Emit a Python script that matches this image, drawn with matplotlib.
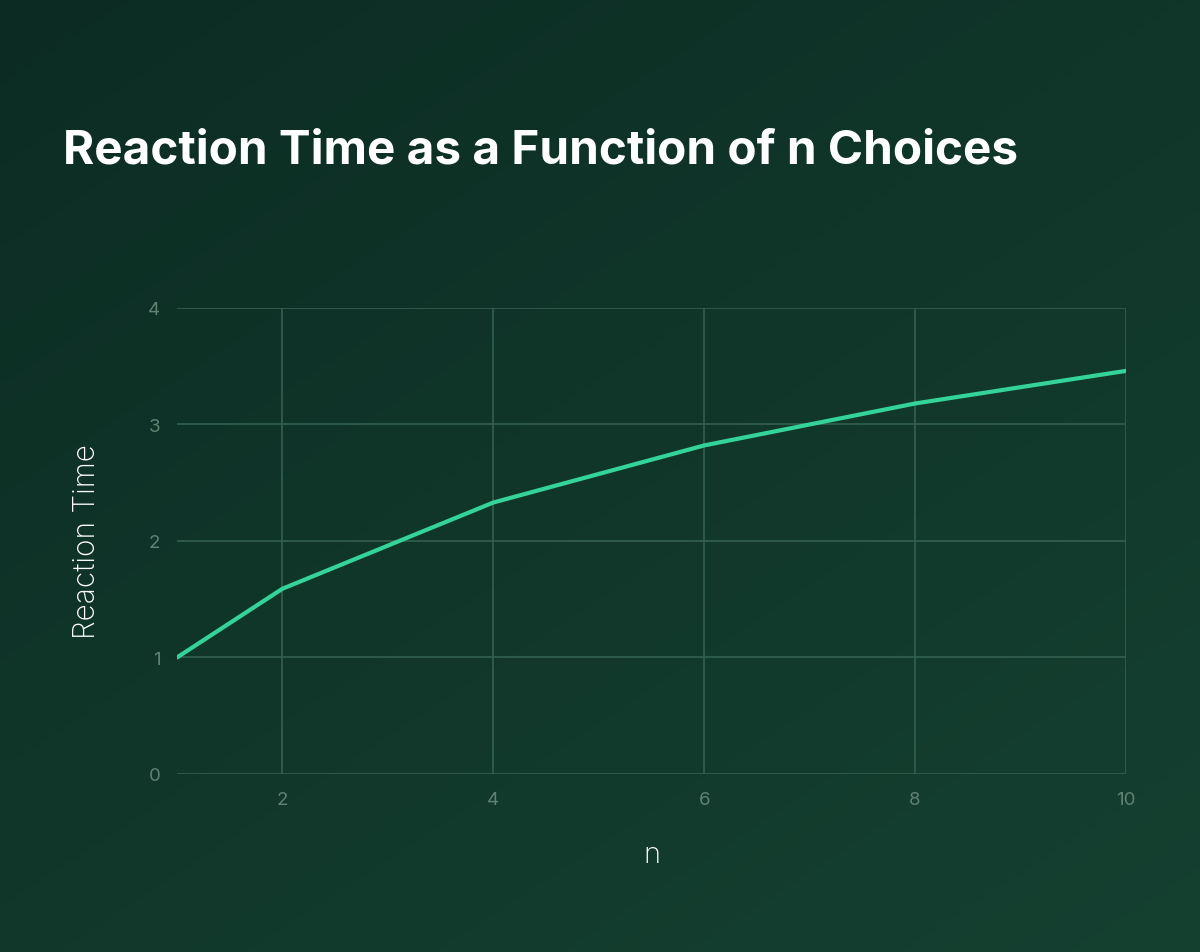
import numpy as np
import matplotlib.pyplot as plt

# data
n_choices = [1, 2, 4, 6, 8, 10]
reaction_time = [1.0, 1.59, 2.33, 2.82, 3.18, 3.46]
x_ticks = [2, 4, 6, 8, 10]
y_ticks = [0, 1, 2, 3, 4]

plt.rcParams['font.family'] = ['Inter', 'DejaVu Sans']

fig = plt.figure(figsize=(12, 9.53), dpi=100)

# background gradient (dark green, lighter toward bottom right)
bg = fig.add_axes([0, 0, 1, 1], zorder=-10)
gx, gy = np.meshgrid(np.linspace(0, 1, 300), np.linspace(0, 1, 300))
t = (gx * 0.45 + gy * 0.55)
c0 = np.array([0x0c, 0x2c, 0x23]) / 255
c1 = np.array([0x15, 0x41, 0x31]) / 255
img = c0[None, None, :] * (1 - t[..., None]) + c1[None, None, :] * t[..., None]
bg.imshow(img, aspect='auto', extent=[0, 1, 0, 1], origin='upper')
bg.axis('off')

ax = fig.add_axes([0.1475, 0.1868, 0.7908, 0.489])
ax.patch.set_alpha(0)
ax.plot(n_choices, reaction_time, color='#34d399', lw=3, solid_capstyle='round', zorder=3)

ax.set_xlim(1, 10)
ax.set_ylim(0, 4)
ax.set_xticks(x_ticks)
ax.set_yticks(y_ticks)
ax.grid(True, color='#33604f', lw=1.2)
for s in ax.spines.values():
    s.set_visible(False)
ax.tick_params(length=0, colors='#5f8273', labelsize=13.5, pad=12)

ax.set_xlabel('n', color='white', fontsize=21, fontweight='light', labelpad=24)
ax.set_ylabel('Reaction Time', color='white', fontsize=21.5, fontweight='light', labelpad=34)

fig.text(0.0525, 0.841, 'Reaction Time as a Function of n Choices', color='white',
         fontsize=34.3, fontweight='bold', va='center', ha='left')

fig.savefig('out.png', dpi=100)
